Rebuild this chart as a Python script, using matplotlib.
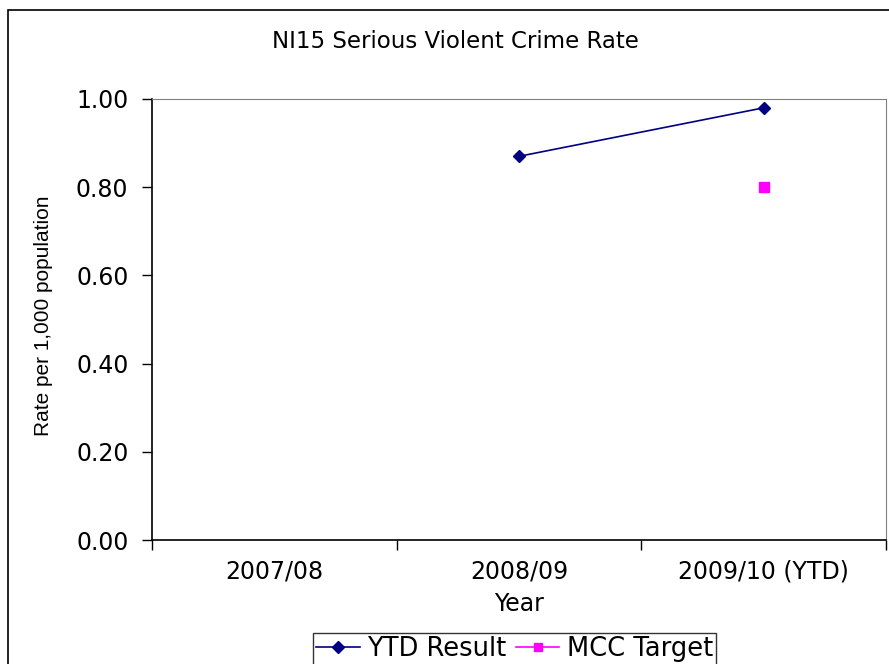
import matplotlib
matplotlib.use("Agg")
import matplotlib.pyplot as plt
from matplotlib.patches import Rectangle
from matplotlib.lines import Line2D

plt.rcParams['font.family'] = ['DejaVu Sans']

# Data
years = ["2007/08", "2008/09", "2009/10 (YTD)"]
ytd_result = [None, 0.87, 0.98]
mcc_target = [None, None, 0.80]
y_ticks = [0.0, 0.2, 0.4, 0.6, 0.8, 1.0]

W, H = 889, 664
fig = plt.figure(figsize=(W / 100, H / 100), dpi=100)
ax = fig.add_axes([152 / W, 1 - 540 / H, (886 - 152) / W, (540 - 99) / H])

# outer chart frame
fig.patches.append(Rectangle((8 / W, -0.05), 1.2, 1 - 10 / H + 0.05,
                             transform=fig.transFigure, fill=False,
                             edgecolor='black', linewidth=1.2))

xs = list(range(len(years)))
yx = [x for x, v in zip(xs, ytd_result) if v is not None]
yv = [v for v in ytd_result if v is not None]
ax.plot(yx, yv, color='#000080', linewidth=1.2, marker='D', markersize=6.5,
        label='YTD Result')
tx = [x for x, v in zip(xs, mcc_target) if v is not None]
tv = [v for v in mcc_target if v is not None]
ax.plot(tx, tv, color='#FF00FF', linewidth=1.2, marker='s', markersize=6.5,
        linestyle='None', label='MCC Target')

ax.set_xlim(-0.5, len(years) - 0.5)
ax.set_ylim(0, 1.0)
ax.set_yticks(y_ticks)
ax.set_yticklabels([f"{t:.2f}" for t in y_ticks], fontsize=17)
ax.tick_params(axis='y', direction='out', length=7, width=1, pad=10)

ax.set_xticks(xs)
ax.set_xticklabels(years, fontsize=17)
ax.tick_params(axis='x', length=0, pad=14)
ax.set_xticks([x - 0.5 for x in range(len(years) + 1)], minor=True)
ax.tick_params(axis='x', which='minor', direction='out', length=7, width=1)

for s in ['top', 'right']:
    ax.spines[s].set_color('#808080')
for s in ['left', 'bottom']:
    ax.spines[s].set_color('black')
    ax.spines[s].set_linewidth(1.2)

ax.set_xlabel('Year', fontsize=17, labelpad=6)
ax.set_ylabel('Rate per 1,000 population', fontsize=15,
              fontfamily='Liberation Sans')
ax.yaxis.set_label_coords(44 / W, 1 - 316 / H, transform=fig.transFigure)
ax.yaxis.label.set_verticalalignment('center')

fig.text(455 / W, 1 - 41 / H, 'NI15 Serious Violent Crime Rate',
         fontsize=16.5, ha='center', va='center')

handles = [Line2D([], [], color='#000080', marker='D', markersize=6, linewidth=1.2),
           Line2D([], [], color='#FF00FF', marker='s', markersize=6, linewidth=1.2)]
leg = fig.legend(handles, ['YTD Result', 'MCC Target'], loc='upper left',
                 bbox_to_anchor=(313 / W, 1 - 633 / H), ncol=2, fontsize=18.5,
                 frameon=True, fancybox=False, edgecolor='black',
                 handlelength=1.7, handletextpad=0.3, columnspacing=0.35,
                 borderpad=0.12, borderaxespad=0)
leg.get_frame().set_linewidth(1.0)

fig.savefig('out.png', dpi=100)
